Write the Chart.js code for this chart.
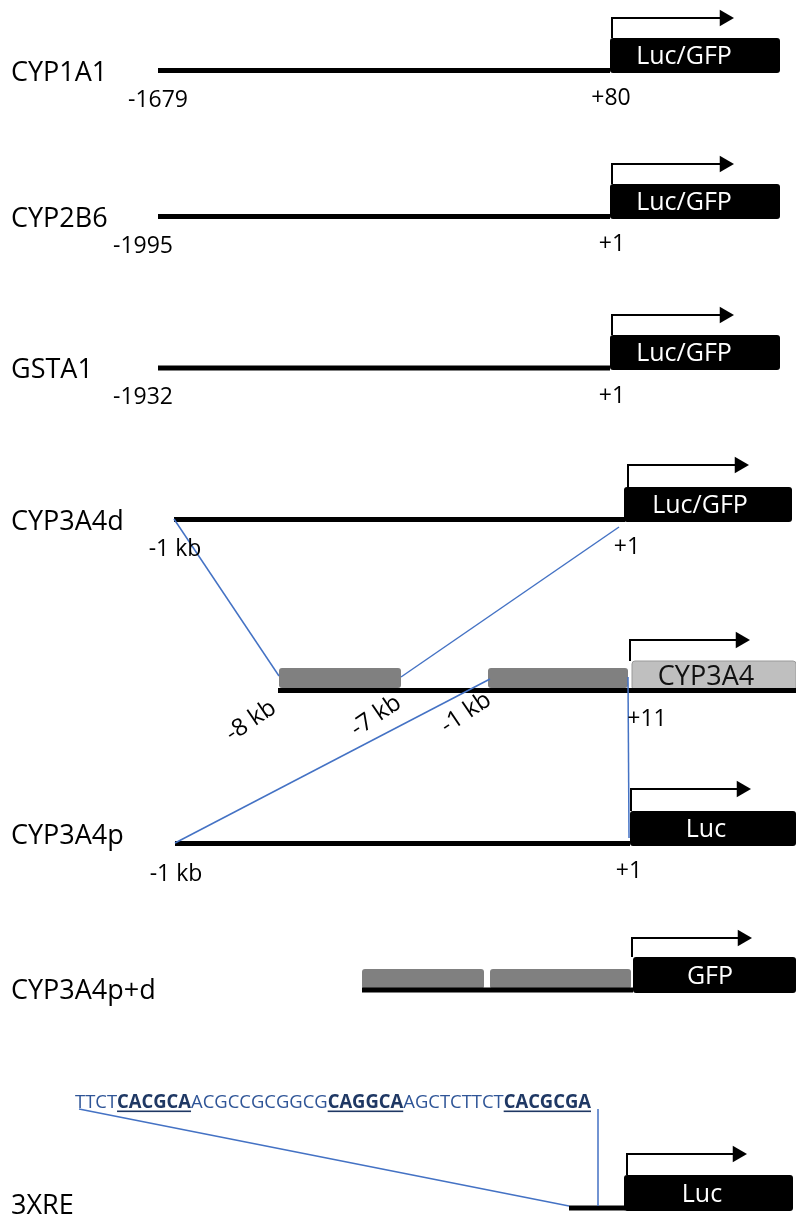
<!DOCTYPE html>
<html><head><meta charset="utf-8">
<script src="https://cdn.jsdelivr.net/npm/chart.js@4/dist/chart.umd.min.js"></script>
<style>html,body{margin:0;padding:0;background:#fff;}#wrap{width:796px;height:1221px;}</style>
</head><body><div id="wrap"><canvas id="c" width="796" height="1221"></canvas></div>
<script>
// ---- diagram data (in chart data units) ----
const rowNames = ['CYP1A1','CYP2B6','GSTA1','CYP3A4d','CYP3A4p','CYP3A4p+d','3XRE'];
const rowNameY = [81,227,378,530,844,999,1214];
// backbone: [start, end, y]
const backbones = [[158,610,70.5],[158,610,216.5],[158,610,368],[174,625,519.5],[278,796,690.5],[175,630,843.5],[362,633,990],[569,625,1208]];
// reporter boxes: [x0, x1, y0, y1]
const reporterBoxes = [[610,780,38,73],[610,780,184,219],[610,780,335,370],[624,792,487,522],[632,796,661,690],[630,796,811,846],[633,796,957,993],[624,793,1175,1211]];
const reporterNames = ['Luc/GFP','Luc/GFP','Luc/GFP','Luc/GFP','CYP3A4','Luc','GFP','Luc'];
const reporterTextX = [684,684,684,700,706,706,710,702];
// transcription start arrows: [x, yBottom, yTop, tipX]
const tssArrows = [[612,38,18,734],[612,184,164,734],[612,335,315,734],[628,487,465,749],[630,661,640,750],[631,811,789,751],[632,957,938,752],[627,1175,1154,747]];
// enhancer / promoter blocks: [x0, x1, y0, y1]
const regionBlocks = [[279,401,668,688],[488,628,668,688],[362,484,969,989],[490,631,969,989]];
// connectors: [x0, y0, x1, y1]
const connectors = [[174,519,279,676],[619,527,401,677],[490,679,175,843],[628,677,629,838],[79,1109,569,1206],[598,1109,598,1206]];
// position labels: [text, centerX, baselineY]
const posLabels = [['-1679',158,107],['+80',611,105],['-1995',143,253],['+1',612,251],['-1932',143,404],['+1',612,403],['-1 kb',175,556],['+1',627,554],['+11',647,726],['-1 kb',176,881],['+1',629,878]];
// rotated genomic labels: [text, centerX, centerY]
const kbLabels = [['-8 kb',251,721],['-7 kb',376,716],['-1 kb',466,713]];
// XRE sequence parts: [text, isResponseElement]
const seqParts = [['TTCT',0],['CACGCA',1],['ACGCCGCGGCG',0],['CAGGCA',1],['AGCTCTTCT',0],['CACGCGA',1]];

const FONT = '"Open Sans", "Liberation Sans", sans-serif';
const BLUE = '#4472C4';

const datasets = [];
connectors.forEach(c => datasets.push({data:[{x:c[0],y:c[1]},{x:c[2],y:c[3]}], showLine:true, borderColor:BLUE, borderWidth:1.5, pointRadius:0, clip:false}));
const headR = 9.5;
datasets.push({data: tssArrows.map(a => ({x:a[3]-headR, y:a[2]})), showLine:false, pointStyle:'triangle', rotation:90, pointRadius:headR, pointBackgroundColor:'#000', pointBorderWidth:0, borderWidth:0, clip:false});
tssArrows.forEach(a => datasets.push({data:[{x:a[0],y:a[1]},{x:a[0],y:a[2]},{x:a[3]-headR*1.5+1,y:a[2]}], showLine:true, borderColor:'#000', borderWidth:2, pointRadius:0, borderJoinStyle:'miter', clip:false}));
backbones.forEach(b => datasets.push({data:[{x:b[0],y:b[2]},{x:b[1],y:b[2]}], showLine:true, borderColor:'#000', borderWidth:5, pointRadius:0, borderCapStyle:'butt', clip:false}));

function rr(ctx,x0,y0,x1,y1,r){ctx.beginPath();ctx.roundRect(x0,y0,x1-x0,y1-y0,r);}

const diagram = {
  id:'diagram',
  beforeDatasetsDraw(chart){
    const ctx = chart.ctx, X = v=>chart.scales.x.getPixelForValue(v), Y = v=>chart.scales.y.getPixelForValue(v);
    ctx.save();
    regionBlocks.forEach(b => { rr(ctx,X(b[0]),Y(b[2]),X(b[1]),Y(b[3]),3); ctx.fillStyle='#808080'; ctx.fill(); });
    reporterBoxes.forEach((b,i) => {
      rr(ctx,X(b[0]),Y(b[2]),X(b[1]),Y(b[3]),3);
      if (reporterNames[i]==='CYP3A4'){ ctx.fillStyle='#bfbfbf'; ctx.fill(); ctx.strokeStyle='#9a9a9a'; ctx.lineWidth=1; ctx.stroke(); }
      else { ctx.fillStyle='#000'; ctx.fill(); }
    });
    ctx.restore();
  },
  afterDatasetsDraw(chart){
    const ctx = chart.ctx, X = v=>chart.scales.x.getPixelForValue(v), Y = v=>chart.scales.y.getPixelForValue(v);
    ctx.save();
    ctx.textBaseline='alphabetic';
    // row names
    ctx.font = '27px '+FONT; ctx.fillStyle='#000'; ctx.textAlign='left';
    rowNames.forEach((n,i)=>ctx.fillText(n, X(11), Y(rowNameY[i])));
    // reporter names
    reporterBoxes.forEach((b,i)=>{
      const fs = reporterNames[i]==='CYP3A4'?27:25;
      ctx.font = fs+'px '+FONT; ctx.textAlign='center';
      ctx.fillStyle = reporterNames[i]==='CYP3A4' ? '#111' : '#fff';
      const cy = (Y(b[2])+Y(b[3]))/2 + fs*0.714/2;
      ctx.fillText(reporterNames[i], X(reporterTextX[i]), cy);
    });
    // position labels
    ctx.font = '23px '+FONT; ctx.fillStyle='#000'; ctx.textAlign='center';
    posLabels.forEach(p=>ctx.fillText(p[0], X(p[1]), Y(p[2])));
    // rotated kb labels
    kbLabels.forEach(k=>{
      ctx.save(); ctx.translate(X(k[1]),Y(k[2])); ctx.rotate(-34*Math.PI/180);
      ctx.font='24px '+FONT; ctx.textAlign='center'; ctx.textBaseline='middle'; ctx.fillStyle='#000';
      ctx.fillText(k[0],0,0); ctx.restore();
    });
    // sequence
    const fN = '19px '+FONT, fB = '700 19px '+FONT;
    let W = 0;
    const widths = seqParts.map(p=>{ctx.font = p[1]?fB:fN; const w=ctx.measureText(p[0]).width; W+=w; return w;});
    const x0 = X(75), x1 = X(591), sx = (x1-x0)/W;
    ctx.translate(x0, Y(1108)); ctx.scale(sx,1);
    ctx.textAlign='left';
    let cx = 0;
    seqParts.forEach((p,i)=>{
      ctx.font = p[1]?fB:fN; ctx.fillStyle = p[1]?'#1F3864':'#2F5597';
      ctx.fillText(p[0], cx, 0);
      if (p[1]) { ctx.fillRect(cx, 2.5, widths[i], 1.6); }
      cx += widths[i];
    });
    ctx.restore();
  }
};

new Chart(document.getElementById('c'), {
  type:'scatter',
  data:{datasets},
  options:{
    responsive:false, devicePixelRatio:1, animation:false, events:[],
    layout:{padding:0, autoPadding:false},
    plugins:{legend:{display:false}, tooltip:{enabled:false}},
    scales:{
      x:{type:'linear', min:0, max:796, display:false},
      y:{type:'linear', min:0, max:1221, reverse:true, display:false}
    }
  },
  plugins:[diagram]
});
</script></body></html>
